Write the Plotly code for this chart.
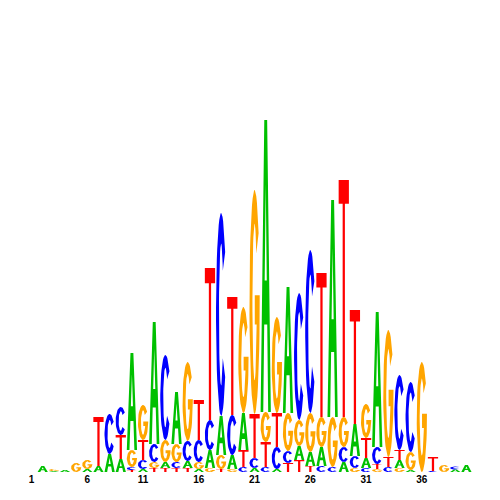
import numpy as np
import plotly.graph_objects as go

# ---------------- data (information content in bits, per position) ----------------
positions = list(range(1, 41))
A_bits = [0, 0.030, 0.005, 0.010, 0, 0.015, 0.030, 0.090, 0.065, 0.485,
          0.015, 0.610, 0.030, 0.260, 0.035, 0.015, 0.090, 0.195, 0.070, 0.185,
          0.020, 1.460, 0.015, 0.630, 0.070, 0.070, 0.095, 1.085, 0.050, 0.160,
          0.050, 0.675, 0, 0.040, 0.010, 0, 0, 0, 0.0125, 0.035]
C_bits = [0, 0, 0, 0, 0, 0, 0, 0.200, 0.140, 0.015,
          0.045, 0.090, 0.425, 0.030, 0.100, 0.110, 0.150, 1.015, 0.200, 0.025,
          0.050, 0.025, 0.110, 0.060, 0.635, 0.815, 0.030, 0.025, 0.075, 0.060,
          0.020, 0.085, 0.025, 0.375, 0.350, 0, 0.005, 0, 0.015, 0]
G_bits = [0, 0, 0.010, 0, 0.045, 0.045, 0, 0, 0, 0.085,
          0.175, 0.030, 0.110, 0.090, 0.395, 0.035, 0.020, 0.070, 0.015, 0.530,
          1.120, 0.150, 0.480, 0.190, 0.130, 0.195, 0.150, 0.250, 0.150, 0.020,
          0.170, 0.015, 0.635, 0.020, 0.090, 0.550, 0, 0.035, 0, 0]
T_bits = [0, 0, 0, 0, 0, 0, 0.245, 0, 0.120, 0.010,
          0.100, 0.020, 0.020, 0.020, 0.020, 0.200, 0.760, 0.015, 0.590, 0.085,
          0.220, 0.125, 0.170, 0.045, 0.060, 0.030, 0.720, 0, 1.185, 0.570,
          0.100, 0.025, 0.050, 0.050, 0, 0, 0.070, 0, 0, 0]
tick_vals = [1, 6, 11, 16, 21, 26, 31, 36]
tick_text = ["1", "6", "11", "16", "21", "26", "31", "36"]

colors = {"A": "#00c000", "C": "#0000ff", "G": "#ffa500", "T": "#ff0000"}

# ---------------- glyph outlines in a unit box ----------------
def arc(rx, ry, t0, t1, n=40):
    t = np.radians(np.linspace(t0, t1, n))
    return list(zip(0.5 + rx * np.cos(t), 0.5 + ry * np.sin(t)))

ORX, ORY, IRX, IRY = 0.5, 0.5, 0.21, 0.35

def glyph_C():
    pts = arc(ORX, ORY, 38, 322) + arc(IRX, IRY, 322, 38)
    return pts + [pts[0]]

def glyph_G():
    yb = 0.40
    ang = np.degrees(np.arcsin((yb - 0.5) / IRY)) + 360
    pts = arc(ORX, ORY, 38, 360)
    pts += [(1.0, 0.53), (0.52, 0.53), (0.52, yb)]
    pts += arc(IRX, IRY, ang, 38)
    return pts + [pts[0]]

def glyph_A():
    return [(0, 0), (0.36, 1), (0.64, 1), (1, 0), (0.74, 0), (0.648, 0.3),
            (0.5, 0.3), (0.5, 0.45), (0.6015, 0.45), (0.5, 0.78), (0.3985, 0.45),
            (0.5, 0.45), (0.5, 0.3), (0.352, 0.3), (0.26, 0), (0, 0)]

def glyph_T():
    return [(0, 1), (1, 1), (1, 0.9), (0.61, 0.9), (0.61, 0), (0.39, 0),
            (0.39, 0.9), (0, 0.9), (0, 1)]

glyphs = {"A": glyph_A(), "C": glyph_C(), "G": glyph_G(), "T": glyph_T()}

# ---------------- build figure ----------------
fig = go.Figure()
half = 0.46
table = {"A": A_bits, "C": C_bits, "G": G_bits, "T": T_bits}
for i, p in enumerate(positions):
    items = sorted([(table[b][i], b) for b in "ACGT" if table[b][i] > 0])
    base = 0.0
    for h, b in items:
        g = glyphs[b]
        xs = [p - half + 2 * half * gx for gx, gy in g]
        ys = [base + h * gy for gx, gy in g]
        fig.add_trace(go.Scatter(x=xs, y=ys, mode="lines", fill="toself",
                                 fillcolor=colors[b], line=dict(width=0, color=colors[b]),
                                 hoverinfo="skip", showlegend=False))
        base += h

fig.update_layout(
    width=500, height=500,
    margin=dict(l=18, r=36, t=64, b=36),
    paper_bgcolor="white", plot_bgcolor="white",
    xaxis=dict(range=[0.5, 40.5], tickmode="array", tickvals=tick_vals, ticktext=tick_text,
               showgrid=False, zeroline=False, showline=False, ticks="",
               tickfont=dict(family="Liberation Sans", size=10, color="black", weight="bold")),
    yaxis=dict(range=[0, 2], visible=False),
)
fig.write_html("out.html")
